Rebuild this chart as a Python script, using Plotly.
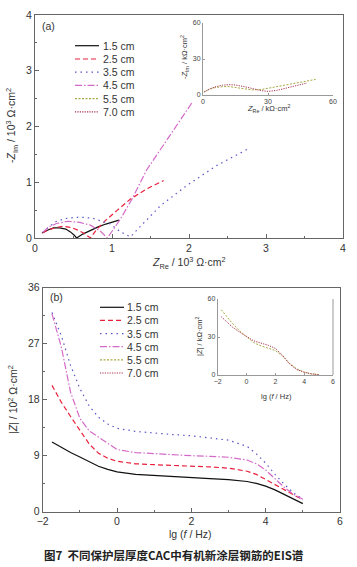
import plotly.graph_objects as go

W, H = 357, 567

# ---------------- Data ----------------
labels = ["1.5 cm", "2.5 cm", "3.5 cm", "4.5 cm", "5.5 cm", "7.0 cm"]
colors = ["#111111", "#e8203c", "#5a55c8", "#d46ac8", "#a8a845", "#a8344e"]
dashes = ["solid", "5px,3px", "1.5px,4px", "7px,2px,1.5px,2px", "2px,1.5px", "1.2px,1.2px"]

# (a) Nyquist, 10^3 ohm cm2
re_15 = [0.09, 0.16, 0.24, 0.32, 0.40, 0.46, 0.51, 0.54, 0.62, 0.72, 0.82, 0.92, 1.00, 1.09]
im_15 = [0.09, 0.14, 0.18, 0.18, 0.16, 0.11, 0.05, 0.0, 0.07, 0.14, 0.20, 0.25, 0.28, 0.32]
re_25 = [0.10, 0.18, 0.28, 0.37, 0.47, 0.56, 0.64, 0.72, 0.80, 0.92, 1.07, 1.24, 1.45, 1.67]
im_25 = [0.09, 0.15, 0.19, 0.21, 0.19, 0.14, 0.08, 0.0, 0.15, 0.32, 0.50, 0.70, 0.88, 1.03]
re_35 = [0.10, 0.18, 0.28, 0.40, 0.52, 0.64, 0.76, 0.88, 0.98, 1.11, 1.24, 1.37, 1.63, 1.97, 2.36, 2.77]
im_35 = [0.10, 0.20, 0.30, 0.35, 0.37, 0.37, 0.35, 0.30, 0.25, 0.11, 0.02, 0.21, 0.58, 0.94, 1.30, 1.60]
re_45 = [0.10, 0.18, 0.28, 0.43, 0.58, 0.72, 0.85, 0.94, 1.11, 1.26, 1.45, 1.80, 2.05]
im_45 = [0.10, 0.20, 0.26, 0.30, 0.28, 0.23, 0.12, 0.0, 0.34, 0.70, 1.22, 1.95, 2.45]

# (a) inset Nyquist, kohm cm2
re_55 = [0.5, 3, 6, 9, 12, 15, 19, 23, 27, 32, 37, 42, 47, 52]
im_55 = [2.5, 4.8, 6.3, 7.0, 7.0, 6.4, 5.2, 4.2, 4.6, 6.2, 8.0, 9.8, 11.5, 13.0]
re_70 = [0.5, 3, 6, 9, 12, 15, 19, 23, 27, 30, 34, 39, 44, 48]
im_70 = [2.5, 5.0, 7.0, 8.2, 8.6, 8.3, 7.0, 5.2, 3.6, 3.0, 3.8, 6.0, 8.5, 10.0]

# (b) Bode |Z|, 10^2 ohm cm2
lgf = [-1.75, -1.5, -1.25, -1.0, -0.75, -0.5, -0.25, 0, 0.5, 1, 1.5, 2, 2.5, 3, 3.5, 3.75, 4, 4.25, 4.5, 4.75, 5.0]
z_15 = [11.2, 10.3, 9.5, 8.8, 8.0, 7.3, 6.8, 6.4, 6.0, 5.8, 5.6, 5.45, 5.3, 5.15, 4.85, 4.55, 4.1, 3.5, 2.8, 2.0, 1.3]
z_25 = [20.3, 17.6, 15.3, 13.0, 10.9, 9.4, 8.6, 8.1, 7.7, 7.55, 7.45, 7.35, 7.2, 7.0, 6.5, 6.0, 5.2, 4.4, 3.5, 2.7, 1.9]
z_35 = [32.0, 28.3, 23.5, 19.8, 17.0, 15.2, 14.1, 13.4, 12.9, 12.6, 12.4, 12.2, 11.9, 11.5, 10.5, 9.3, 7.8, 6.0, 4.4, 3.0, 2.0]
z_45 = [31.8, 26.5, 19.2, 15.0, 13.0, 12.0, 10.9, 10.0, 9.5, 9.3, 9.15, 9.0, 8.9, 8.75, 8.3, 7.7, 6.7, 5.3, 3.9, 2.8, 2.0]

# (b) inset Bode, kohm cm2
lgf_in = [-1.75, -1.0, -0.5, 0, 0.5, 1, 1.5, 2, 2.5, 3, 3.5, 4, 4.5, 5]
zin_55 = [51.5, 41, 35, 30, 25.5, 23, 21, 19.3, 15, 9, 4.8, 2.2, 0.9, 0.4]
zin_70 = [46, 38, 34, 30.5, 27, 25.2, 23.5, 21, 15.5, 8.5, 4.2, 2.2, 0.9, 0.3]

# ---------------- Figure ----------------
FONT = "Liberation Sans, Arial, sans-serif"
fig = go.Figure()

def line(x, y, i, xa, ya, w=1.2):
    fig.add_trace(go.Scatter(x=x, y=y, mode="lines", xaxis=xa, yaxis=ya, showlegend=False,
                             line=dict(color=colors[i], dash=dashes[i], width=w)))

line(re_15, im_15, 0, "x", "y")
line(re_25, im_25, 1, "x", "y")
line(re_35, im_35, 2, "x", "y")
line(re_45, im_45, 3, "x", "y")
line(re_55, im_55, 4, "x2", "y2", 1.0)
line(re_70, im_70, 5, "x2", "y2", 1.0)

line(lgf, z_15, 0, "x3", "y3")
line(lgf, z_25, 1, "x3", "y3")
line(lgf, z_35, 2, "x3", "y3")
line(lgf, z_45, 3, "x3", "y3")
line(lgf_in, zin_55, 4, "x4", "y4", 1.0)
line(lgf_in, zin_70, 5, "x4", "y4", 1.0)

def px(v):
    return v / W

def py(v):
    return 1 - v / H

axcol = "#666666"
main_ax = dict(showgrid=False, zeroline=False, showline=True, linecolor=axcol, linewidth=1,
               mirror=True, ticks="inside", ticklen=4, tickcolor=axcol, automargin=False,
               tickfont=dict(size=10.5, color="#333333", family=FONT))
inset_ax = dict(showgrid=False, zeroline=False, showline=True, linecolor="#999999", linewidth=1,
                mirror=False, ticks="inside", ticklen=2, tickcolor="#999999", automargin=False,
                tickfont=dict(size=7, color="#444444", family=FONT))

fig.update_layout(
    width=W, height=H, margin=dict(l=0, r=0, t=0, b=0, autoexpand=False),
    paper_bgcolor="white", plot_bgcolor="white", showlegend=False,
    font=dict(family=FONT, color="#333333"),
    xaxis=dict(main_ax, domain=[px(35), px(343)], range=[0, 4], tickvals=[0, 1, 2, 3, 4],
               minor=dict(ticks="inside", ticklen=2, tickcolor=axcol, dtick=0.5), anchor="y"),
    yaxis=dict(main_ax, domain=[py(238), py(15)], range=[0, 4], tickvals=[0, 1, 2, 3, 4],
               minor=dict(ticks="inside", ticklen=2, tickcolor=axcol, dtick=0.5), anchor="x"),
    xaxis2=dict(inset_ax, domain=[px(203), px(333)], range=[0, 60], tickvals=[0, 30, 60], anchor="y2"),
    yaxis2=dict(inset_ax, domain=[py(95), py(23)], range=[0, 60], tickvals=[0, 30, 60], anchor="x2"),
    xaxis3=dict(main_ax, domain=[px(42.7), px(340)], range=[-2, 6], tickvals=[-2, 0, 2, 4, 6],
                minor=dict(ticks="inside", ticklen=2, tickcolor=axcol, dtick=1), anchor="y3"),
    yaxis3=dict(main_ax, domain=[py(511.7), py(287.7)], range=[0, 36], tickvals=[0, 9, 18, 27, 36],
                minor=dict(ticks="inside", ticklen=2, tickcolor=axcol, dtick=4.5), anchor="x3"),
    xaxis4=dict(inset_ax, domain=[px(217.7), px(333)], range=[-2, 6], tickvals=[-2, 0, 2, 4, 6], anchor="y4"),
    yaxis4=dict(inset_ax, domain=[py(375), py(299)], range=[0, 60], tickvals=[0, 30, 60], anchor="x4"),
)

ann = []
shapes = []

def text(x, y, s, size=10.5, angle=0, xanchor="center", **kw):
    ann.append(dict(x=px(x), y=py(y), xref="paper", yref="paper", text=s, showarrow=False,
                    xanchor=xanchor, yanchor="middle", textangle=angle,
                    font=dict(size=size, family=kw.get("family", FONT), color=kw.get("color", "#333333"))))

# axis titles
text(189, 263, "<i>Z</i><sub>Re</sub> / 10<sup>3</sup> Ω·cm<sup>2</sup>", 10.5)
text(12, 126, "-<i>Z</i><sub>Im</sub> / 10<sup>3</sup> Ω·cm<sup>2</sup>", 10.5, angle=-90)
text(190, 534, "lg (<i>f</i> / Hz)", 10.5)
text(12, 400, "|<i>Z</i>| / 10<sup>2</sup> Ω·cm<sup>2</sup>", 10.5, angle=-90)
# inset titles
text(268, 109, "<i>Z</i><sub>Re</sub> / kΩ·cm<sup>2</sup>", 7.5)
text(185, 57, "-<i>Z</i><sub>Im</sub> / kΩ·cm<sup>2</sup>", 7.5, angle=-90)
text(276, 396, "lg (<i>f</i> / Hz)", 7.5)
text(199, 336, "|<i>Z</i>| / kΩ·cm<sup>2</sup>", 7.5, angle=-90)
# panel labels
text(48, 26, "(a)", 10.5)
text(56, 297, "(b)", 10.5)
# caption
text(174, 555, "<b>图7  不同保护层厚度CAC中有机新涂层钢筋的EIS谱</b>", 11.5,
     family="Noto Sans CJK SC", color="#222222")

# custom legends
def legend(x0, x1, xt, ys):
    for i, yy in enumerate(ys):
        shapes.append(dict(type="line", xref="paper", yref="paper", x0=px(x0), x1=px(x1),
                           y0=py(yy), y1=py(yy),
                           line=dict(color=colors[i], dash=dashes[i], width=1.2)))
        text(xt, yy, labels[i], 10.5, xanchor="left")

legend(75, 99, 101, [45.7, 59.0, 72.2, 85.4, 98.6, 111.8])
legend(100, 124, 125, [307.3, 320.4, 333.6, 346.7, 359.9, 373.0])

# right-side line of bottom inset
shapes.append(dict(type="line", xref="paper", yref="paper", x0=px(333), x1=px(333),
                   y0=py(375), y1=py(299), line=dict(color="#999999", width=1)))

fig.update_layout(annotations=ann, shapes=shapes)
fig.write_html("out.html", config={"displayModeBar": False, "staticPlot": True},
               post_script="document.body.style.margin='0';document.body.style.overflow='hidden';")
